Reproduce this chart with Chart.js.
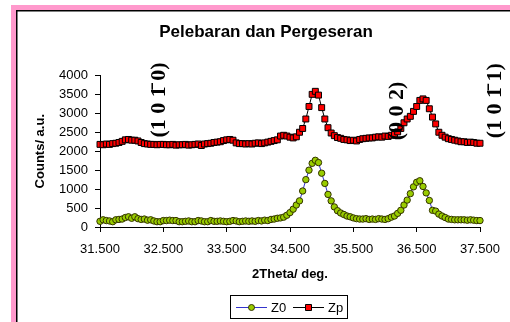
<!DOCTYPE html>
<html>
<head>
<meta charset="utf-8">
<script src="https://cdn.jsdelivr.net/npm/chart.js@4"></script>
<style>
  html, body { margin: 0; padding: 0; background: #fff; }
  #wrap { width: 510px; height: 322px; }
</style>
</head>
<body>
<div id="wrap"><canvas id="grafik" width="510" height="322"></canvas></div>
<script>
// sudut 2theta (derajat)
const angles = [
  31.50,31.55,31.60,31.65,31.70,31.75,31.80,31.85,31.90,31.95,
  32.00,32.05,32.10,32.15,32.20,32.25,32.30,32.35,32.40,32.45,
  32.50,32.55,32.60,32.65,32.70,32.75,32.80,32.85,32.90,32.95,
  33.00,33.05,33.10,33.15,33.20,33.25,33.30,33.35,33.40,33.45,
  33.50,33.55,33.60,33.65,33.70,33.75,33.80,33.85,33.90,33.95,
  34.00,34.05,34.10,34.15,34.20,34.25,34.30,34.35,34.40,34.45,
  34.50,34.55,34.60,34.65,34.70,34.75,34.80,34.85,34.90,34.95,
  35.00,35.05,35.10,35.15,35.20,35.25,35.30,35.35,35.40,35.45,
  35.50,35.55,35.60,35.65,35.70,35.75,35.80,35.85,35.90,35.95,
  36.00,36.05,36.10,36.15,36.20,36.25,36.30,36.35,36.40,36.45,
  36.50,36.55,36.60,36.65,36.70,36.75,36.80,36.85,36.90,36.95,
  37.00,37.05,37.10,37.15,37.20,37.25,37.30,37.35,37.40,37.45,
  37.50
]

const z0 = [
  150,190,170,160,140,190,200,210,250,270,
  230,270,220,200,210,180,190,160,140,140,
  170,170,180,170,170,140,140,150,160,140,
  140,170,160,140,140,170,150,150,160,150,
  140,150,170,160,140,150,160,150,160,150,
  170,160,180,170,200,210,230,240,260,310,
  380,470,580,690,950,1250,1500,1680,1760,1700,
  1420,1150,860,690,530,430,370,330,290,270,
  240,220,210,210,220,200,210,200,220,210,
  200,220,260,290,360,440,580,710,880,1060,
  1180,1220,1070,900,700,440,420,340,290,250,
  210,200,190,190,190,190,180,190,180,170,
  170
]

const zp = [
  2180,2170,2190,2180,2200,2210,2230,2260,2300,2310,
  2290,2290,2270,2230,2200,2190,2180,2180,2170,2180,
  2180,2170,2170,2180,2160,2170,2170,2180,2160,2170,
  2180,2190,2150,2190,2200,2210,2230,2240,2250,2280,
  2300,2310,2290,2220,2200,2200,2190,2200,2190,2210,
  2220,2200,2220,2240,2260,2280,2300,2400,2420,2400,
  2370,2350,2380,2500,2600,2850,3180,3500,3580,3480,
  3150,2850,2620,2480,2410,2360,2340,2310,2300,2280,
  2290,2270,2310,2330,2340,2350,2350,2370,2380,2370,
  2400,2390,2420,2440,2510,2600,2750,2850,2920,3050,
  3180,3340,3380,3340,3120,2900,2720,2500,2420,2370,
  2330,2310,2290,2270,2250,2250,2230,2240,2230,2210,
  2210
]

const xTicks = [31.5, 32.5, 33.5, 34.5, 35.5, 36.5, 37.5]

// label bidang kristal (hkil) dan posisinya
const peakLabels = ['(1 0 1\u0304 0)', '(0 0 2)', '(1 0 1\u0304 1)']
const peakAngles = [32.43, 36.19, 37.74]
const peakCounts = [3350, 3060, 3330]

const sans = "'Liberation Sans', Arial, sans-serif"

const bingkai = {
  id: 'bingkai',
  beforeDraw(chart) {
    const c = chart.ctx
    c.save()
    c.fillStyle = '#ff99cc'
    c.fillRect(11, 5, 510, 330)
    c.fillStyle = '#fff'
    c.fillRect(16, 10, 510, 330)
    c.strokeStyle = '#000'
    c.lineWidth = 1.5
    c.beginPath()
    c.moveTo(16.75, 330)
    c.lineTo(16.75, 10.75)
    c.lineTo(520, 10.75)
    c.stroke()
    c.restore()
  }
}

const labelPuncak = {
  id: 'labelPuncak',
  afterDatasetsDraw(chart) {
    const c = chart.ctx
    const x = chart.scales.x, y = chart.scales.y
    c.save()
    c.fillStyle = '#000'
    c.font = "bold 22px 'Liberation Serif', 'Times New Roman', serif"
    c.textAlign = 'center'
    c.textBaseline = 'middle'
    peakLabels.forEach((t, i) => {
      c.save()
      c.translate(x.getPixelForValue(peakAngles[i]), y.getPixelForValue(peakCounts[i]))
      c.rotate(-Math.PI / 2)
      c.fillText(t, 0, 0)
      c.restore()
    })
    c.restore()
  }
}

const legenda = {
  id: 'legenda',
  afterDraw(chart) {
    const c = chart.ctx
    c.save()
    c.strokeStyle = '#000'
    c.lineWidth = 1
    c.strokeRect(230.5, 295.5, 117, 23)
    const cy = 307
    const items = chart.data.datasets
    let x0 = 236
    items.forEach((ds) => {
      c.strokeStyle = ds.borderColor
      c.lineWidth = 1
      c.beginPath()
      c.moveTo(x0, cy + 0.5)
      c.lineTo(x0 + 31, cy + 0.5)
      c.stroke()
      c.fillStyle = ds.pointBackgroundColor
      c.strokeStyle = ds.pointBorderColor
      c.beginPath()
      if (ds.pointStyle === 'rect') {
        c.rect(x0 + 12.5, cy - 2.5, 6, 6)
      } else {
        c.arc(x0 + 15.5, cy + 0.5, 3, 0, Math.PI * 2)
      }
      c.fill()
      c.stroke()
      c.fillStyle = '#000'
      c.font = '13px ' + sans
      c.textAlign = 'left'
      c.textBaseline = 'middle'
      c.fillText(ds.label, x0 + 35, cy + 1)
      x0 += 57
    })
    c.restore()
  }
}

const ctx = document.getElementById('grafik')

const graph = new Chart(ctx, {
  type: 'line',
  data: {
    datasets: [{
      label: 'Z0',
      data: angles.map((a, i) => ({ x: a, y: z0[i] })),
      borderColor: '#3333cc',
      borderWidth: 1,
      pointStyle: 'circle',
      pointRadius: 3.2,
      pointBorderWidth: 1,
      pointBackgroundColor: '#99cc00',
      pointBorderColor: '#333300',
      tension: 0
    }, {
      label: 'Zp',
      data: angles.map((a, i) => ({ x: a, y: zp[i] })),
      borderColor: '#000000',
      borderWidth: 1,
      pointStyle: 'rect',
      pointRadius: 4.2,
      pointBorderWidth: 1,
      pointBackgroundColor: '#ff0000',
      pointBorderColor: '#000000',
      tension: 0
    }]
  },
  options: {
    responsive: false,
    animation: false,
    clip: false,
    layout: { padding: { top: 10, left: 52, right: 30, bottom: 0 } },
    plugins: {
      legend: { display: false },
      tooltip: { enabled: false },
      title: {
        display: true,
        text: 'Pelebaran dan Pergeseran',
        color: '#000',
        font: { family: sans, size: 17, weight: 'bold' },
        padding: { top: 12, bottom: 33 }
      }
    },
    scales: {
      x: {
        type: 'linear',
        min: 31.5,
        max: 37.5,
        afterBuildTicks(scale) { scale.ticks = xTicks.map(v => ({ value: v })) },
        afterFit(scale) { scale.height = 95 },
        ticks: {
          color: '#000',
          font: { family: sans, size: 13 },
          padding: 10,
          maxRotation: 0,
          autoSkip: false,
          callback: v => v.toFixed(3)
        },
        grid: { drawOnChartArea: false, drawTicks: true, tickLength: 5, color: '#000' },
        border: { display: true, color: '#000', width: 1 },
        title: {
          display: true,
          text: '2Theta/ deg.',
          color: '#000',
          font: { family: sans, size: 13, weight: 'bold' },
          padding: { top: 4, bottom: 40 }
        }
      },
      y: {
        min: 0,
        max: 4000,
        afterFit(scale) { scale.width = 48 },
        ticks: {
          stepSize: 500,
          color: '#000',
          font: { family: sans, size: 13 },
          padding: 7,
          callback: v => String(v)
        },
        grid: { drawOnChartArea: false, drawTicks: true, tickLength: 5, color: '#000' },
        border: { display: true, color: '#000', width: 1 },
        title: {
          display: true,
          text: 'Counts/ a.u.',
          color: '#000',
          font: { family: sans, size: 13, weight: 'bold' },
          padding: { top: -19, bottom: 0 }
        }
      }
    }
  },
  plugins: [bingkai, labelPuncak, legenda]
})
</script>
</body>
</html>
